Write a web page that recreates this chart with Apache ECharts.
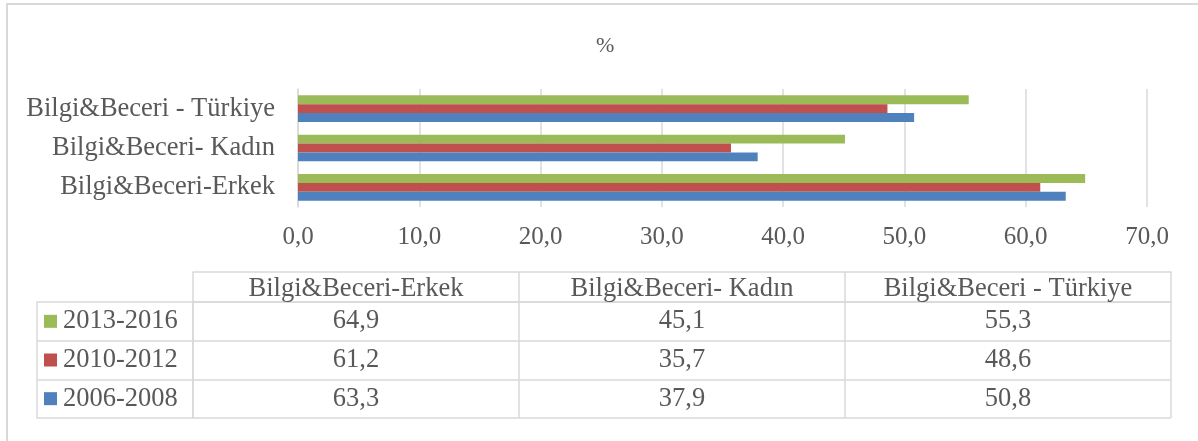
<!DOCTYPE html>
<html>
<head>
<meta charset="utf-8">
<script src="https://cdn.jsdelivr.net/npm/echarts@6/dist/echarts.min.js"></script>
<style>
html,body{margin:0;padding:0;background:#fff;}
#main{width:1198px;height:441px;}
</style>
</head>
<body>
<div id="main"></div>
<script>
// kategoriler (alttan yukari)
var categories = ['Bilgi&Beceri-Erkek', 'Bilgi&Beceri- Kadın', 'Bilgi&Beceri - Türkiye'];
// donemler
var periods = ['2006-2008', '2010-2012', '2013-2016'];
var colors = ['#4F81BD', '#C0504D', '#9BBB59'];
// degerler
var v2006 = [63.3, 37.9, 50.8];
var v2010 = [61.2, 35.7, 48.6];
var v2013 = [64.9, 45.1, 55.3];
var xTicks = [0, 10, 20, 30, 40, 50, 60, 70];

var values = [v2006, v2010, v2013];
var FONT = "'Liberation Serif', 'Times New Roman', serif";
var TXT = '#595959';
var LINE = '#d9d9d9';

function fmt(v){
	return v.toFixed(1).replace('.', ',');
}

// tablo satirlari ustten alta: 2013-2016, 2010-2012, 2006-2008
var rowNames = periods.slice().reverse();
var tableData = [];
for (var r = 0; r < rowNames.length; r++) {
	var src = values[periods.length - 1 - r];
	for (var c = 0; c < categories.length; c++) {
		tableData.push([c, r, src[c]]);
	}
}

var rich = { t: { fontFamily: FONT, fontSize: 26.5, color: TXT, padding: [0, 0, 0, 6] } };
for (var k = 0; k < rowNames.length; k++) {
	rich['s' + k] = { width: 13, height: 13, backgroundColor: colors[periods.length - 1 - k] };
}

// en yeni donem ustte cizilsin diye ters sira
var barSeries = [];
for (var i = periods.length - 1; i >= 0; i--) {
	barSeries.push({
		name: periods[i],
		type: 'bar',
		xAxisIndex: 0,
		yAxisIndex: 0,
		barGap: '0%',
		barCategoryGap: '32%',
		itemStyle: { color: colors[i] },
		data: values[i]
	});
}

var option = {
	backgroundColor: '#fff',
	animation: false,
	title: {
		text: '%',
		left: 591,
		top: 30,
		textStyle: { fontFamily: FONT, fontSize: 22, fontWeight: 'normal', color: TXT }
	},
	graphic: [{
		type: 'rect',
		shape: { x: 7, y: 4, width: 1400, height: 600 },
		style: { fill: null, stroke: LINE, lineWidth: 2 },
		silent: true
	}],
	grid: [
		{ left: 298, top: 89, width: 849, height: 118 },
		{ left: 193, top: 302, width: 978, height: 116 }
	],
	xAxis: [{
		gridIndex: 0,
		type: 'value',
		min: 0,
		max: xTicks[xTicks.length - 1],
		interval: 10,
		axisLine: { show: false },
		axisTick: { show: false },
		splitLine: { lineStyle: { color: LINE, width: 1.5 } },
		axisLabel: {
			margin: 18,
			fontFamily: FONT, fontSize: 25, color: TXT,
			formatter: function (v) { return fmt(v); }
		}
	}, {
		gridIndex: 1,
		type: 'category',
		position: 'top',
		data: categories,
		axisLine: { show: true, lineStyle: { color: LINE, width: 1.5 } },
		axisTick: { show: true, inside: false, length: 30, lineStyle: { color: LINE, width: 1.5 } },
		splitLine: { show: true, lineStyle: { color: LINE, width: 1.5 } },
		axisLabel: { margin: 13, verticalAlign: 'middle', fontFamily: FONT, fontSize: 26.5, color: TXT }
	}, {
		gridIndex: 1,
		type: 'category',
		position: 'top',
		offset: 30,
		data: categories,
		axisLine: { show: true, lineStyle: { color: LINE, width: 1.5 } },
		axisTick: { show: false },
		axisLabel: { show: false }
	}],
	yAxis: [{
		gridIndex: 0,
		type: 'category',
		data: categories,
		axisLine: { lineStyle: { color: LINE, width: 1.5 } },
		axisTick: { show: false },
		axisLabel: { margin: 23, fontFamily: FONT, fontSize: 26.5, color: TXT }
	}, {
		gridIndex: 1,
		type: 'category',
		inverse: true,
		data: rowNames,
		axisLine: { show: true, lineStyle: { color: LINE, width: 1.5 } },
		axisTick: { show: true, inside: false, length: 156, lineStyle: { color: LINE, width: 1.5 } },
		splitLine: { show: true, lineStyle: { color: LINE, width: 1.5 } },
		axisLabel: {
			margin: 149,
			align: 'left',
			formatter: function (v, i) { return '{s' + i + '|}{t|' + v + '}'; },
			rich: rich
		}
	}, {
		gridIndex: 1,
		type: 'category',
		position: 'left',
		offset: 156,
		inverse: true,
		data: rowNames,
		axisLine: { show: true, lineStyle: { color: LINE, width: 1.5 } },
		axisTick: { show: false },
		axisLabel: { show: false }
	}],
	series: barSeries.concat([{
		type: 'custom',
		xAxisIndex: 1,
		yAxisIndex: 1,
		encode: { x: 0, y: 1 },
		data: tableData,
		renderItem: function (params, api) {
			var pt = api.coord([api.value(0), api.value(1)]);
			return {
				type: 'text',
				x: pt[0],
				y: pt[1],
				style: {
					text: fmt(api.value(2)),
					fontFamily: FONT,
					fontSize: 26.5,
					fill: TXT,
					align: 'center',
					verticalAlign: 'middle'
				}
			};
		}
	}])
};

var myChart = echarts.init(document.getElementById('main'));
myChart.setOption(option);
</script>
</body>
</html>
